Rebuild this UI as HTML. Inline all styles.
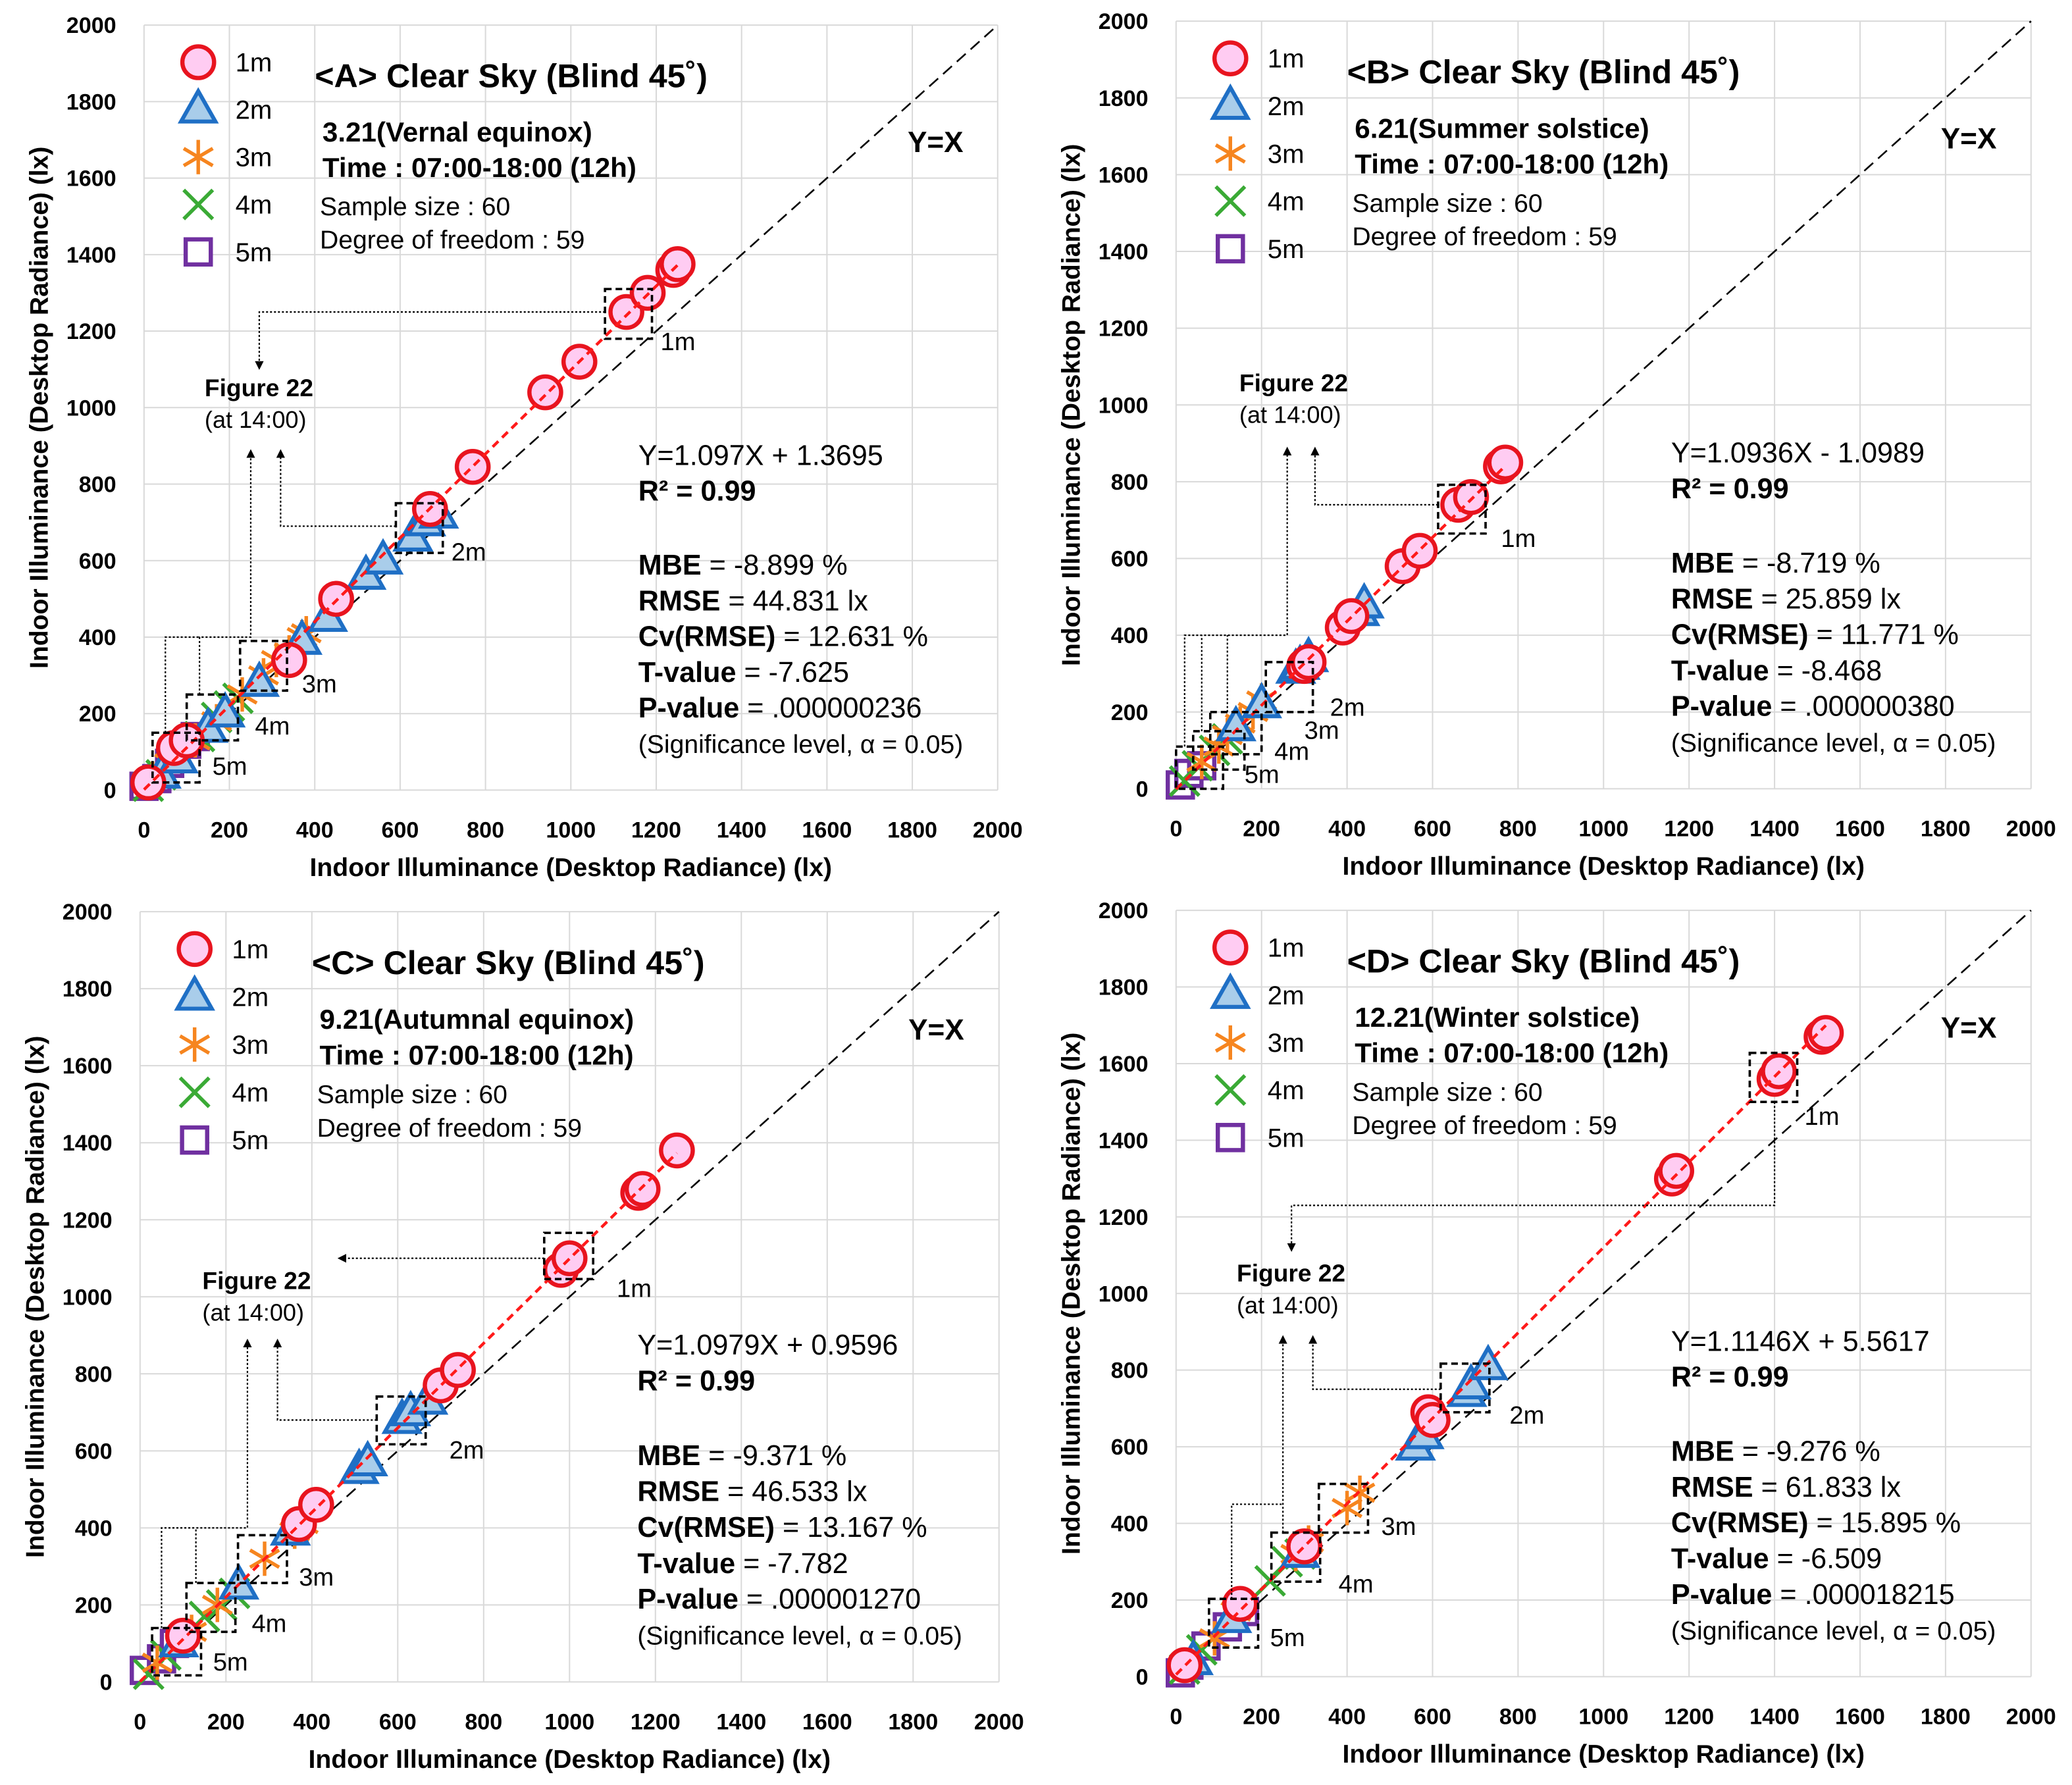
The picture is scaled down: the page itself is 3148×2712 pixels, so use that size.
<!DOCTYPE html>
<html><head><meta charset="utf-8">
<style>
html,body{margin:0;padding:0;background:#fff;}
svg{display:block;font-family:"Liberation Sans",sans-serif;}
</style></head>
<body>
<svg id="fig" width="3148" height="2712" viewBox="0 0 1568 1351" preserveAspectRatio="none" xmlns="http://www.w3.org/2000/svg"></svg>
<script>
// ---- data (x = Desktop Radiance, y = Indoor Illuminance) ----
const panelIds = ['A','B','C','D'];
const tickValues = [0,200,400,600,800,1000,1200,1400,1600,1800,2000];
const seriesNames = ['1m','2m','3m','4m','5m'];
// Panel A
const A_1m = [[10,20],[70,110],[100,130],[340,340],[450,500],[670,735],[770,845],[940,1040],[1020,1120],[1130,1250],[1180,1300],[1240,1360],[1250,1375]];
const A_2m = [[40,40],[80,80],[150,160],[190,200],[270,280],[370,390],[430,450],[520,560],[560,600],[630,660],[660,700],[690,720]];
const A_3m = [[20,30],[60,70],[120,130],[170,180],[230,250],[280,300],[310,340],[340,360],[370,400],[380,410]];
const A_4m = [[10,10],[40,40],[80,90],[130,140],[170,190],[200,220],[220,240]];
const A_5m = [[0,10],[30,30],[60,70],[100,120],[120,140]];
// Panel B
const B_1m = [[300,320],[310,330],[390,420],[410,450],[530,580],[570,620],[660,740],[690,760],[760,840],[770,850]];
const B_2m = [[140,160],[200,220],[280,310],[290,320],[310,340],[430,460],[440,480]];
const B_3m = [[60,70],[100,110],[120,140],[150,170],[180,200],[200,230]];
const B_4m = [[20,20],[50,60],[90,100],[120,130]];
const B_5m = [[10,10],[30,40],[60,60]];
// Panel C
const C_1m = [[100,120],[370,410],[410,460],[700,770],[740,810],[980,1070],[1000,1100],[1160,1270],[1170,1280],[1250,1380]];
const C_2m = [[90,100],[230,250],[350,390],[510,550],[530,570],[610,680],[630,700],[670,730]];
const C_3m = [[40,50],[120,130],[180,200],[290,320],[360,390],[380,410]];
const C_4m = [[20,20],[60,70],[150,170],[190,200],[220,230]];
const C_5m = [[10,30],[50,60],[80,100]];
// Panel D
const D_1m = [[20,30],[150,190],[300,340],[590,690],[600,670],[1160,1300],[1170,1320],[1400,1560],[1410,1580],[1510,1670],[1520,1680]];
const D_2m = [[40,40],[130,150],[290,320],[560,600],[580,630],[680,740],[690,760],[730,810]];
const D_3m = [[90,100],[140,170],[280,320],[310,350],[400,440],[430,480]];
const D_4m = [[20,20],[60,70],[220,250],[260,300],[290,320]];
const D_5m = [[10,10],[30,30],[70,80],[120,130],[160,170]];
const fitSlope = [1.097,1.0936,1.0979,1.1146];
const fitIntercept = [1.3695,-1.0989,0.9596,5.5617];
const eqText = ['Y=1.097X + 1.3695','Y=1.0936X - 1.0989','Y=1.0979X + 0.9596','Y=1.1146X + 5.5617'];
const dateText = ['3.21(Vernal equinox)','6.21(Summer solstice)','9.21(Autumnal equinox)','12.21(Winter solstice)'];
const mbeText = ['-8.899 %','-8.719 %','-9.371 %','-9.276 %'];
const rmseText = ['44.831 lx','25.859 lx','46.533 lx','61.833 lx'];
const cvText = ['12.631 %','11.771 %','13.167 %','15.895 %'];
const tText = ['-7.625','-8.468','-7.782','-6.509'];
const pText = ['.000000236','.000000380','.000001270','.000018215'];

const seriesData = {A:[A_1m,A_2m,A_3m,A_4m,A_5m],B:[B_1m,B_2m,B_3m,B_4m,B_5m],C:[C_1m,C_2m,C_3m,C_4m,C_5m],D:[D_1m,D_2m,D_3m,D_4m,D_5m]};
const annot = {
 A:{boxes:[[1080,1190,1180,1310,1210,1150],[590,700,620,750,720,600],[225,335,260,390,370,255],[100,220,130,250,260,145],[20,130,20,150,160,40]],
    paths:[[[1080,1250],[270,1250],[270,1110]],[[590,690],[320,690],[320,880]],[[130,250],[130,400],[250,400],[250,880]],[[50,150],[50,400],[130,400]]],arrows:[1,1,1,0],fig:[142,1030]},
 B:{boxes:[[613,724,665,792,760,630],[210,320,200,330,360,190],[80,200,90,200,300,130],[40,160,50,150,230,75],[0,110,0,110,160,15]],
    paths:[[[613,740],[325,740],[325,880]],[[20,110],[20,400],[260,400],[260,880]],[[60,150],[60,400]],[[120,200],[120,400]]],arrows:[1,1,0,0],fig:[148,1036]},
 C:{boxes:[[941,1055,1046,1166,1110,1000],[551,665,617,741,720,580],[228,342,257,381,370,250],[108,222,130,257,260,130],[28,142,17,140,170,30]],
    paths:[[[941,1100],[470,1100]],[[551,680],[320,680],[320,880]],[[130,257],[130,400],[250,400],[250,880]],[[50,140],[50,400],[130,400]]],arrows:[1,1,1,0],fig:[145,1020]},
 D:{boxes:[[1342,1453,1500,1628,1470,1440],[619,733,690,817,780,660],[334,449,376,503,480,370],[223,337,248,376,380,220],[77,192,76,203,220,80]],
    paths:[[[1400,1500],[1400,1230],[270,1230],[270,1120]],[[619,750],[320,750],[320,880]],[[250,376],[250,880]],[[130,203],[130,450],[250,450]]],arrows:[1,1,1,0],fig:[142,1031]}
};
const geom = {A:[109,19,646,579],B:[890,16,647,581],C:[106,690,650,583],D:[890,689,647,580]};

const NS='http://www.w3.org/2000/svg';
const svg=document.getElementById('fig');
function mk(tag,attrs,parent){const e=document.createElementNS(NS,tag);for(const k in attrs)e.setAttribute(k,attrs[k]);(parent||svg).appendChild(e);return e;}
const defs=mk('defs',{});
const mrk=mk('marker',{id:'arr',markerWidth:'6',markerHeight:'6',refX:'3',refY:'3',orient:'auto'},defs);
mk('path',{d:'M0,0 L6,3 L0,6 z',fill:'#000'},mrk);

panelIds.forEach((pid,pi)=>{
  const [x0,top,w,h]=geom[pid];
  const y0=top+h;
  const X=v=>x0+v/2000*w, Y=v=>y0-v/2000*h;
  const g=mk('g',{});
  
  
  tickValues.forEach(t=>{
    const gl=mk('line',{x1:X(t),x2:X(t),y1:top,y2:y0,stroke:'#d9d9d9','stroke-width':1},g);
    
    
    const hl=mk('line',{x1:x0,x2:x0+w,y1:Y(t),y2:Y(t),stroke:'#d9d9d9','stroke-width':1},g);
    
    
    const xt=mk('text',{x:X(t),y:y0+36,'text-anchor':'middle','font-size':17,'font-weight':'bold'},g);
    xt.textContent=t;
    
    
    const yt=mk('text',{x:x0-21,y:Y(t)+6,'text-anchor':'end','font-size':17,'font-weight':'bold'},g);
    yt.textContent=t;
    
    
  });
  const xa=mk('text',{x:x0+w/2,y:y0+65,'text-anchor':'middle','font-size':19.5,'font-weight':'bold'},g);
  xa.textContent='Indoor Illuminance (Desktop Radiance) (lx)';
  
  
  const ya=mk('text',{x:0,y:0,'text-anchor':'middle','font-size':19.5,'font-weight':'bold',transform:`translate(${x0-73},${top+h/2}) rotate(-90)`},g);
  ya.textContent='Indoor Illuminance (Desktop Radiance) (lx)';
  
  
  const yx=mk('line',{x1:X(0),y1:Y(0),x2:X(2000),y2:Y(2000),stroke:'#000','stroke-width':1.3,'stroke-dasharray':'9,5'},g);
  
  
  const draw=(si,px,py,parent)=>{
    let e;
    if(si===0){e=mk('circle',{cx:px,cy:py,r:12,fill:'#ffccf2',stroke:'#e8141f','stroke-width':3.2},parent);}
    else if(si===1){e=mk('path',{d:`M${px},${py-14} L${px+13},${py+9} L${px-13},${py+9} Z`,fill:'#a9cdea',stroke:'#1f6fc5','stroke-width':3},parent);}
    else if(si===2){e=mk('path',{d:`M${px},${py-13}V${py+13}M${px-11},${py-6.5}L${px+11},${py+6.5}M${px-11},${py+6.5}L${px+11},${py-6.5}`,stroke:'#f6851f','stroke-width':2.7,fill:'none'},parent);}
    else if(si===3){e=mk('path',{d:`M${px-11},${py-11}L${px+11},${py+11}M${px-11},${py+11}L${px+11},${py-11}`,stroke:'#3aaa35','stroke-width':2.8,fill:'none'},parent);}
    else {e=mk('rect',{x:px-9.5,y:py-9.5,width:19,height:19,fill:'#fff',stroke:'#7030a0','stroke-width':3.2},parent);}
    return e;
  };
  for(let si=4;si>=0;si--){
    seriesData[pid][si].forEach(p=>{
      const e=draw(si,X(p[0]),Y(p[1]),g);
      
      
    });
  }
  const xmax=Math.max(...seriesData[pid][0].map(p=>p[0]));
  const fl=mk('line',{x1:X(0),y1:Y(fitIntercept[pi]),x2:X(xmax),y2:Y(fitSlope[pi]*xmax+fitIntercept[pi]),stroke:'#ff1a1a','stroke-width':2.2,'stroke-dasharray':'6,4'},g);
  
  
  const an=annot[pid];
  an.boxes.forEach((b,bi)=>{
    const r=mk('rect',{x:X(b[0]),y:Y(b[3]),width:X(b[1])-X(b[0]),height:Y(b[2])-Y(b[3]),fill:'none',stroke:'#000','stroke-width':1.8,'stroke-dasharray':'5,3'},g);
    
    
    const t=mk('text',{x:X(b[4]),y:Y(b[5]),'font-size':19},g);
    t.textContent=seriesNames[bi];
    
    
  });
  an.paths.forEach((p,k)=>{
    const attrs={points:p.map(q=>X(q[0])+','+Y(q[1])).join(' '),fill:'none',stroke:'#000','stroke-width':1.1,'stroke-dasharray':'1.5,1.5'};
    if(an.arrows[k])attrs['marker-end']='url(#arr)';
    const pl=mk('polyline',attrs,g);
    
    
  });
  const f1=mk('text',{x:X(an.fig[0]),y:Y(an.fig[1]),'font-size':18.5,'font-weight':'bold'},g);
  f1.textContent='Figure 22';
  
  
  const f2=mk('text',{x:X(an.fig[0]),y:Y(an.fig[1])+24,'font-size':18},g);
  f2.textContent='(at 14:00)';
  
  
  seriesNames.forEach((n,si)=>{
    const ly=Y(1903-si*124);
    const e=draw(si,X(127),ly,g);
    
    
    const t=mk('text',{x:X(214),y:ly+7,'font-size':20},g);
    t.textContent=n;
    
    
  });
  const txt=(s,dx,dy,fs,bold,name)=>{const t=mk('text',{x:X(dx),y:Y(dy),'font-size':fs,'font-weight':bold?'bold':'normal'},g);t.textContent=s;return t;};
  txt('<'+pid+'> Clear Sky (Blind 45˚)',400,1838,25,true,'panel-title');
  txt(dateText[pi],418,1696,21,true,'date-label');
  txt('Time : 07:00-18:00 (12h)',418,1603,21,true,'time-label');
  txt('Sample size : 60',412,1503,19.5,false,'sample-size');
  txt('Degree of freedom : 59',412,1416,19.5,false,'degree-of-freedom');
  txt('Y=X',1789,1668,22,true,'y-equals-x-label');
  txt(eqText[pi],1158,850,21.5,false,'regression-equation');
  const r2=txt('',1158,757,21.5,true,'r-squared');
  r2.textContent='R² = 0.99';
  const stat=(lab,val,dy,name)=>{const t=mk('text',{x:X(1158),y:Y(dy),'font-size':21.5},g);const a=mk('tspan',{'font-weight':'bold'},t);a.textContent=lab;const b=mk('tspan',{},t);b.textContent=' = '+val;};
  stat('MBE',mbeText[pi],563,'mbe-stat');
  stat('RMSE',rmseText[pi],470,'rmse-stat');
  stat('Cv(RMSE)',cvText[pi],377,'cv-rmse-stat');
  stat('T-value',tText[pi],283,'t-value-stat');
  stat('P-value',pText[pi],190,'p-value-stat');
  txt('(Significance level, α = 0.05)',1158,97,19.5,false,'significance-level');
});
</script>
</body></html>
